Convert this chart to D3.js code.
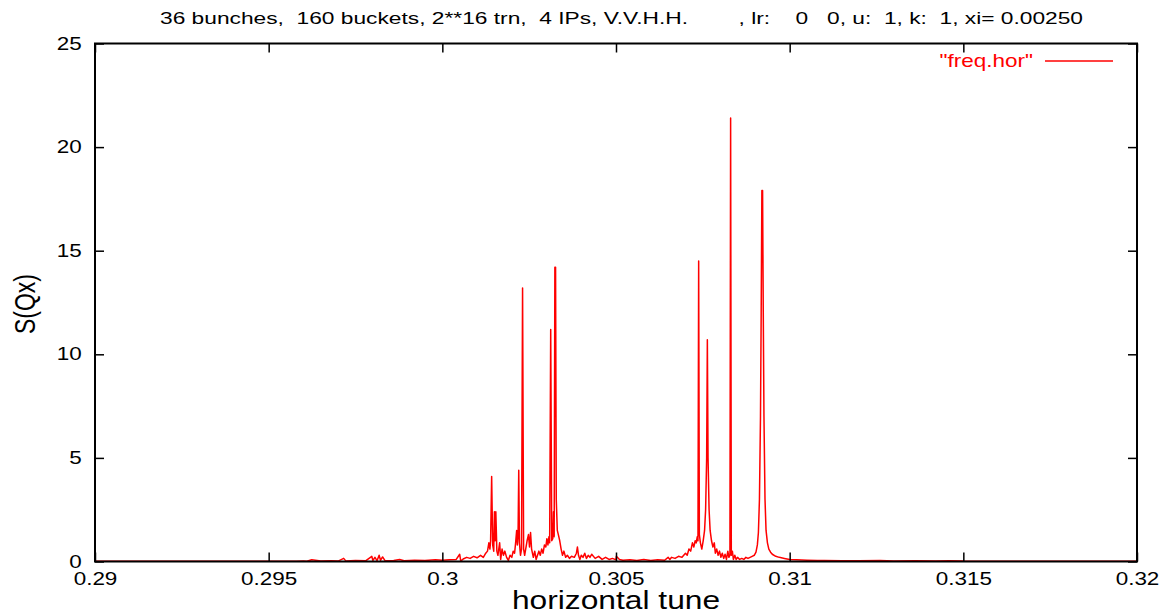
<!DOCTYPE html>
<html>
<head>
<meta charset="utf-8">
<script src="https://cdn.jsdelivr.net/npm/d3@7"></script>
<style>
  body { margin: 0; background: #fff; }
  svg { display: block; }
  text { font-family: "Liberation Sans", Arial, Helvetica, sans-serif; }
</style>
</head>
<body>
<div id="chart"></div>
<script>
// tick labels
var xTicks = [0.29, 0.295, 0.3, 0.305, 0.31, 0.315, 0.32];
var xTickLabels = ["0.29", "0.295", "0.3", "0.305", "0.31", "0.315", "0.32"];
var yTicks = [0, 5, 10, 15, 20, 25];

var titleText = "36 bunches,  160 buckets, 2**16 trn,  4 IPs, V.V.H.H.        , lr:    0   0, u:  1, k:  1, xi= 0.00250";
var legendLabel = "\"freq.hor\"";

// spectrum: [tune, S(Qx)]
var freqHor = [
  [0.29000, 0.01], [0.29200, 0.01], [0.29400, 0.01], [0.29580, 0.015], [0.29600, 0.03],
  [0.29610, 0.01], [0.29624, 0.08], [0.29650, 0.02], [0.29680, 0.04], [0.29700, 0.02],
  [0.29716, 0.15], [0.29722, 0.03], [0.29750, 0.05], [0.29780, 0.04], [0.29797, 0.25],
  [0.29800, 0.05], [0.29806, 0.2], [0.29812, 0.04], [0.29818, 0.3], [0.29822, 0.06],
  [0.29828, 0.22], [0.29835, 0.04], [0.29860, 0.05], [0.29877, 0.1], [0.29890, 0.04],
  [0.29920, 0.06], [0.29950, 0.05], [0.29980, 0.08], [0.30000, 0.06], [0.30020, 0.08],
  [0.30040, 0.1], [0.30050, 0.35], [0.30053, 0.02], [0.30060, 0.12], [0.30070, 0.2],
  [0.30080, 0.15], [0.30090, 0.25], [0.30100, 0.18], [0.30110, 0.3], [0.30118, 0.2],
  [0.30125, 0.4], [0.30130, 0.5], [0.30134, 0.9], [0.30137, 0.6], [0.30139, 1.0],
  [0.30142, 4.1], [0.30145, 0.8], [0.30148, 0.5], [0.30150, 2.4], [0.30152, 1.0],
  [0.30154, 2.4], [0.30157, 0.5], [0.30160, 0.3], [0.30165, 0.9], [0.30168, 0.1],
  [0.30172, 0.6], [0.30176, 0.3], [0.30180, 0.5], [0.30185, 0.2], [0.30190, 0.05],
  [0.30195, 0.3], [0.30200, 0.2], [0.30204, 0.5], [0.30208, 0.4], [0.30211, 0.9],
  [0.30214, 1.5], [0.30216, 0.8], [0.30218, 1.2], [0.30220, 4.4], [0.30222, 0.9],
  [0.30225, 0.3], [0.30228, 0.6], [0.30231, 13.2], [0.30234, 0.6], [0.30237, 0.3],
  [0.30240, 0.6], [0.30244, 1.0], [0.30248, 1.3], [0.30251, 0.7], [0.30254, 1.4],
  [0.30257, 0.6], [0.30262, 0.2], [0.30266, 0.5], [0.30270, 0.1], [0.30274, 0.3],
  [0.30278, 0.5], [0.30282, 0.3], [0.30286, 0.6], [0.30290, 0.4], [0.30294, 0.8],
  [0.30298, 0.7], [0.30301, 1.1], [0.30304, 0.8], [0.30307, 1.2], [0.30309, 0.9],
  [0.30312, 11.2], [0.30315, 1.0], [0.30318, 1.1], [0.30320, 2.4], [0.30322, 1.2],
  [0.30324, 14.2], [0.30326, 14.2], [0.30328, 3.0], [0.30331, 1.5], [0.30334, 1.3],
  [0.30338, 1.0], [0.30342, 0.6], [0.30346, 0.3], [0.30350, 0.5], [0.30355, 0.2],
  [0.30360, 0.3], [0.30366, 0.15], [0.30372, 0.25], [0.30380, 0.2], [0.30386, 0.4],
  [0.30389, 0.7], [0.30392, 0.3], [0.30396, 0.1], [0.30400, 0.3], [0.30405, 0.2],
  [0.30410, 0.4], [0.30415, 0.15], [0.30420, 0.3], [0.30425, 0.2], [0.30430, 0.35],
  [0.30440, 0.15], [0.30450, 0.25], [0.30460, 0.1], [0.30470, 0.2], [0.30480, 0.1],
  [0.30490, 0.15], [0.30500, 0.08], [0.30501, 0.25], [0.30510, 0.1], [0.30520, 0.06],
  [0.30540, 0.08], [0.30560, 0.05], [0.30580, 0.1], [0.30600, 0.05], [0.30620, 0.08],
  [0.30640, 0.06], [0.30650, 0.2], [0.30655, 0.1], [0.30660, 0.2], [0.30670, 0.15],
  [0.30680, 0.25], [0.30690, 0.2], [0.30700, 0.4], [0.30705, 0.3], [0.30710, 0.6],
  [0.30715, 0.5], [0.30720, 0.9], [0.30724, 0.7], [0.30728, 1.0], [0.30731, 0.9],
  [0.30734, 1.2], [0.30736, 1.0], [0.30738, 14.5], [0.30740, 1.3], [0.30743, 0.9],
  [0.30747, 0.6], [0.30751, 1.0], [0.30755, 1.5], [0.30758, 2.5], [0.30761, 5.0],
  [0.30763, 10.7], [0.30765, 5.0], [0.30768, 2.5], [0.30771, 1.5], [0.30775, 1.0],
  [0.30779, 0.7], [0.30783, 0.9], [0.30786, 0.4], [0.30790, 0.6], [0.30794, 0.3],
  [0.30798, 0.5], [0.30802, 0.2], [0.30806, 0.4], [0.30810, 0.15], [0.30814, 0.35],
  [0.30818, 0.1], [0.30822, 0.5], [0.30825, 0.2], [0.30828, 0.3], [0.30830, 21.4],
  [0.30832, 0.3], [0.30835, 0.5], [0.30838, 0.1], [0.30842, 0.3], [0.30846, 0.1],
  [0.30850, 0.2], [0.30856, 0.1], [0.30862, 0.15], [0.30868, 0.1], [0.30874, 0.2],
  [0.30880, 0.15], [0.30886, 0.2], [0.30892, 0.25], [0.30898, 0.3], [0.30903, 0.45],
  [0.30907, 0.8], [0.30910, 1.4], [0.30913, 3.0], [0.30916, 7.0], [0.30918, 12.0],
  [0.30920, 17.9], [0.30922, 17.9], [0.30924, 12.0], [0.30926, 7.0], [0.30929, 3.0],
  [0.30932, 1.5], [0.30936, 0.9], [0.30940, 0.6], [0.30945, 0.45], [0.30950, 0.35],
  [0.30960, 0.25], [0.30970, 0.2], [0.30985, 0.15], [0.31000, 0.1], [0.31020, 0.08],
  [0.31050, 0.06], [0.31080, 0.05], [0.31100, 0.05], [0.31150, 0.04], [0.31200, 0.04],
  [0.31260, 0.05], [0.31300, 0.03], [0.31360, 0.04], [0.31420, 0.03], [0.31460, 0.04],
  [0.31500, 0.02], [0.31700, 0.01], [0.32000, 0.01]
];

var W = 1167, H = 616;
var plot = { left: 95, right: 1137, top: 43.5, bottom: 561.5 };
var stretch = 1.27; // glyphs in the original are drawn wide

var svg = d3.select("#chart").append("svg")
  .attr("width", W)
  .attr("height", H);

var x = d3.scaleLinear().domain([0.29, 0.32]).range([plot.left, plot.right]);
var y = d3.scaleLinear().domain([0, 25]).range([plot.bottom, plot.top]);

// title
svg.append("text")
  .attr("x", 160)
  .attr("y", 24)
  .attr("font-size", 16.3)
  .attr("textLength", 923)
  .attr("lengthAdjust", "spacingAndGlyphs")
  .style("white-space", "pre")
  .text(titleText);

// the curve
var line = d3.line()
  .x(function(d) { return x(d[0]); })
  .y(function(d) { return y(d[1]); });

svg.append("path")
  .datum(freqHor)
  .attr("fill", "none")
  .attr("stroke", "#ff0000")
  .attr("stroke-width", 1.5)
  .attr("stroke-linejoin", "round")
  .attr("d", line);

// bottom axis with labels
var xAxis = svg.append("g")
  .attr("transform", "translate(0," + plot.bottom + ")")
  .call(d3.axisBottom(x).tickValues(xTicks).tickSizeInner(-9).tickSizeOuter(0).tickPadding(11)
    .tickFormat(function(d, i) { return xTickLabels[i]; }));

// left axis with labels
var yAxis = svg.append("g")
  .attr("transform", "translate(" + plot.left + ",0)")
  .call(d3.axisLeft(y).tickValues(yTicks).tickSizeInner(-9).tickSizeOuter(0).tickPadding(10.5)
    .tickFormat(d3.format("d")));

// mirrored ticks, no labels
var topAxis = svg.append("g")
  .attr("transform", "translate(0," + plot.top + ")")
  .call(d3.axisTop(x).tickValues(xTicks).tickSizeInner(-9).tickSizeOuter(0).tickFormat(""));

var rightAxis = svg.append("g")
  .attr("transform", "translate(" + plot.right + ",0)")
  .call(d3.axisRight(y).tickValues(yTicks).tickSizeInner(-9).tickSizeOuter(0).tickFormat(""));

[xAxis, yAxis, topAxis, rightAxis].forEach(function(g) {
  g.select(".domain").remove();
  g.selectAll(".tick line").attr("stroke", "#000").attr("stroke-width", 1.5);
  g.selectAll("text")
    .attr("fill", "#000")
    .attr("font-size", 17.7)
    .style("font-family", "'Liberation Sans', Arial, sans-serif")
    .attr("transform", "scale(" + stretch + ",1)");
});

// frame
svg.append("rect")
  .attr("x", plot.left)
  .attr("y", plot.top)
  .attr("width", plot.right - plot.left)
  .attr("height", plot.bottom - plot.top)
  .attr("fill", "none")
  .attr("stroke", "#000")
  .attr("stroke-width", 2);

// axis titles
svg.append("text")
  .attr("text-anchor", "middle")
  .attr("font-size", 25)
  .attr("transform", "translate(616,609) scale(" + stretch + ",1)")
  .text("horizontal tune");

svg.append("text")
  .attr("text-anchor", "middle")
  .attr("font-size", 23)
  .attr("transform", "translate(35,304) scale(" + stretch + ",1) rotate(-90)")
  .text("S(Qx)");

// legend
svg.append("text")
  .attr("text-anchor", "end")
  .attr("font-size", 17.7)
  .attr("fill", "#ff0000")
  .attr("transform", "translate(1033,67) scale(" + stretch + ",1)")
  .text(legendLabel);

svg.append("line")
  .attr("x1", 1045)
  .attr("x2", 1113)
  .attr("y1", 61)
  .attr("y2", 61)
  .attr("stroke", "#ff0000")
  .attr("stroke-width", 1.3);
</script>
</body>
</html>
